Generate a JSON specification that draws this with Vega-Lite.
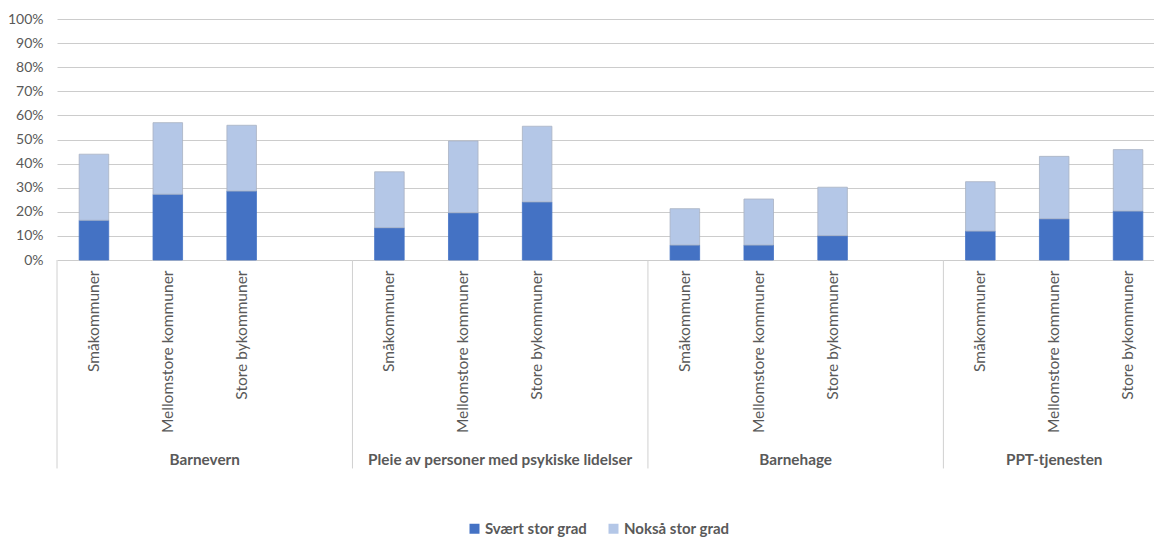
{
  "$schema": "https://vega.github.io/schema/vega-lite/v6.json",
  "width": 1097,
  "height": 241,
  "autosize": "none",
  "padding": {"left": 57, "top": 19, "right": 0, "bottom": 278},
  "background": "white",
  "config": {"font": "Lato", "view": {"stroke": null}},
  "resolve": {"axis": {"x": "independent", "y": "independent"}},
  "datasets": {
    "bars": [
      {"slot": "Barnevern|Småkommuner", "series": "Svært stor grad", "value": 0.165},
      {"slot": "Barnevern|Småkommuner", "series": "Nokså stor grad", "value": 0.274},
      {"slot": "Barnevern|Mellomstore kommuner", "series": "Svært stor grad", "value": 0.273},
      {"slot": "Barnevern|Mellomstore kommuner", "series": "Nokså stor grad", "value": 0.297},
      {"slot": "Barnevern|Store bykommuner", "series": "Svært stor grad", "value": 0.286},
      {"slot": "Barnevern|Store bykommuner", "series": "Nokså stor grad", "value": 0.273},
      {"slot": "Pleie av personer med psykiske lidelser|Småkommuner", "series": "Svært stor grad", "value": 0.134},
      {"slot": "Pleie av personer med psykiske lidelser|Småkommuner", "series": "Nokså stor grad", "value": 0.232},
      {"slot": "Pleie av personer med psykiske lidelser|Mellomstore kommuner", "series": "Svært stor grad", "value": 0.196},
      {"slot": "Pleie av personer med psykiske lidelser|Mellomstore kommuner", "series": "Nokså stor grad", "value": 0.298},
      {"slot": "Pleie av personer med psykiske lidelser|Store bykommuner", "series": "Svært stor grad", "value": 0.241},
      {"slot": "Pleie av personer med psykiske lidelser|Store bykommuner", "series": "Nokså stor grad", "value": 0.314},
      {"slot": "Barnehage|Småkommuner", "series": "Svært stor grad", "value": 0.062},
      {"slot": "Barnehage|Småkommuner", "series": "Nokså stor grad", "value": 0.151},
      {"slot": "Barnehage|Mellomstore kommuner", "series": "Svært stor grad", "value": 0.062},
      {"slot": "Barnehage|Mellomstore kommuner", "series": "Nokså stor grad", "value": 0.191},
      {"slot": "Barnehage|Store bykommuner", "series": "Svært stor grad", "value": 0.101},
      {"slot": "Barnehage|Store bykommuner", "series": "Nokså stor grad", "value": 0.201},
      {"slot": "PPT-tjenesten|Småkommuner", "series": "Svært stor grad", "value": 0.120},
      {"slot": "PPT-tjenesten|Småkommuner", "series": "Nokså stor grad", "value": 0.205},
      {"slot": "PPT-tjenesten|Mellomstore kommuner", "series": "Svært stor grad", "value": 0.171},
      {"slot": "PPT-tjenesten|Mellomstore kommuner", "series": "Nokså stor grad", "value": 0.259},
      {"slot": "PPT-tjenesten|Store bykommuner", "series": "Svært stor grad", "value": 0.203},
      {"slot": "PPT-tjenesten|Store bykommuner", "series": "Nokså stor grad", "value": 0.255}
    ],
    "seps": [
      {"slot": "Barnevern|Småkommuner"},
      {"slot": "Pleie av personer med psykiske lidelser|Småkommuner"},
      {"slot": "Barnehage|Småkommuner"},
      {"slot": "PPT-tjenesten|Småkommuner"}
    ],
    "groups4": [
      {"slot": "Barnevern|Store bykommuner", "label": "Barnevern"},
      {"slot": "Pleie av personer med psykiske lidelser|Store bykommuner", "label": "Pleie av personer med psykiske lidelser"},
      {"slot": "Barnehage|Store bykommuner", "label": "Barnehage"}
    ],
    "groups3": [
      {"slot": "PPT-tjenesten|Mellomstore kommuner", "label": "PPT-tjenesten"}
    ]
  },
  "layer": [
    {
      "data": {"name": "bars"},
      "mark": {"type": "bar", "width": {"band": 0.4}, "strokeWidth": 0.8},
      "encoding": {
        "x": {
          "field": "slot",
          "type": "nominal",
          "sort": null,
          "scale": {
            "domain": [
              "Barnevern|Småkommuner", "Barnevern|Mellomstore kommuner", "Barnevern|Store bykommuner", "Barnevern|",
              "Pleie av personer med psykiske lidelser|Småkommuner", "Pleie av personer med psykiske lidelser|Mellomstore kommuner", "Pleie av personer med psykiske lidelser|Store bykommuner", "Pleie av personer med psykiske lidelser|",
              "Barnehage|Småkommuner", "Barnehage|Mellomstore kommuner", "Barnehage|Store bykommuner", "Barnehage|",
              "PPT-tjenesten|Småkommuner", "PPT-tjenesten|Mellomstore kommuner", "PPT-tjenesten|Store bykommuner"
            ],
            "range": [0, 1108],
            "paddingInner": 0,
            "paddingOuter": 0
          },
          "axis": {
            "title": null,
            "labelExpr": "split(datum.value, '|')[1]",
            "labelAngle": 270,
            "labelAlign": "right",
            "labelBaseline": "middle",
            "labelPadding": 10,
            "labelFontSize": 15.5,
            "labelColor": "#595959",
            "labelOverlap": false,
            "labelLimit": 300,
            "ticks": false,
            "domain": false
          }
        },
        "y": {
          "field": "value",
          "type": "quantitative",
          "stack": "zero",
          "scale": {"domain": [0, 1], "nice": false},
          "axis": {
            "title": null,
            "values": [0, 0.1, 0.2, 0.3, 0.4, 0.5, 0.6, 0.7, 0.8, 0.9, 1],
            "tickCount": 20,
            "format": ".0%",
            "labelFontSize": 14,
            "labelColor": "#595959",
            "labelPadding": 14,
            "labelOverlap": false,
            "ticks": false,
            "domain": false,
            "gridColor": "#cccccc",
            "gridWidth": 1
          }
        },
        "color": {
          "field": "series",
          "type": "nominal",
          "scale": {"domain": ["Svært stor grad", "Nokså stor grad"], "range": ["#4472C4", "#B4C7E7"]},
          "legend": {
            "title": null,
            "orient": "none",
            "legendX": 410,
            "legendY": 502,
            "padding": 0,
            "direction": "horizontal",
            "symbolType": "square",
            "symbolSize": 100,
            "symbolStrokeWidth": 0,
            "labelOffset": 3,
            "labelFontSize": 15,
            "labelFontWeight": "bold",
            "labelColor": "#595959",
            "columnPadding": 18
          }
        },
        "stroke": {
          "field": "series",
          "type": "nominal",
          "scale": {"domain": ["Svært stor grad", "Nokså stor grad"], "range": ["#4472C4", "#a9b3c3"]},
          "legend": null
        },
        "order": {"field": "series", "sort": "descending"}
      }
    },
    {
      "data": {"name": "seps"},
      "mark": {"type": "rule", "color": "#d0d0d0", "strokeWidth": 1},
      "encoding": {
        "x": {"field": "slot", "type": "nominal", "bandPosition": 0, "axis": null},
        "y": {"datum": 0, "axis": null},
        "y2": {"datum": -0.865}
      }
    },
    {
      "data": {"name": "groups4"},
      "mark": {"type": "text", "fontSize": 15.3, "fontWeight": "bold", "color": "#595959", "baseline": "middle", "align": "center"},
      "encoding": {
        "x": {"field": "slot", "type": "nominal", "bandPosition": 0, "axis": null},
        "y": {"datum": -0.83, "axis": null},
        "text": {"field": "label"}
      }
    },
    {
      "data": {"name": "groups3"},
      "mark": {"type": "text", "fontSize": 15.3, "fontWeight": "bold", "color": "#595959", "baseline": "middle", "align": "center"},
      "encoding": {
        "x": {"field": "slot", "type": "nominal", "bandPosition": 0.5, "axis": null},
        "y": {"datum": -0.83, "axis": null},
        "text": {"field": "label"}
      }
    }
  ]
}
